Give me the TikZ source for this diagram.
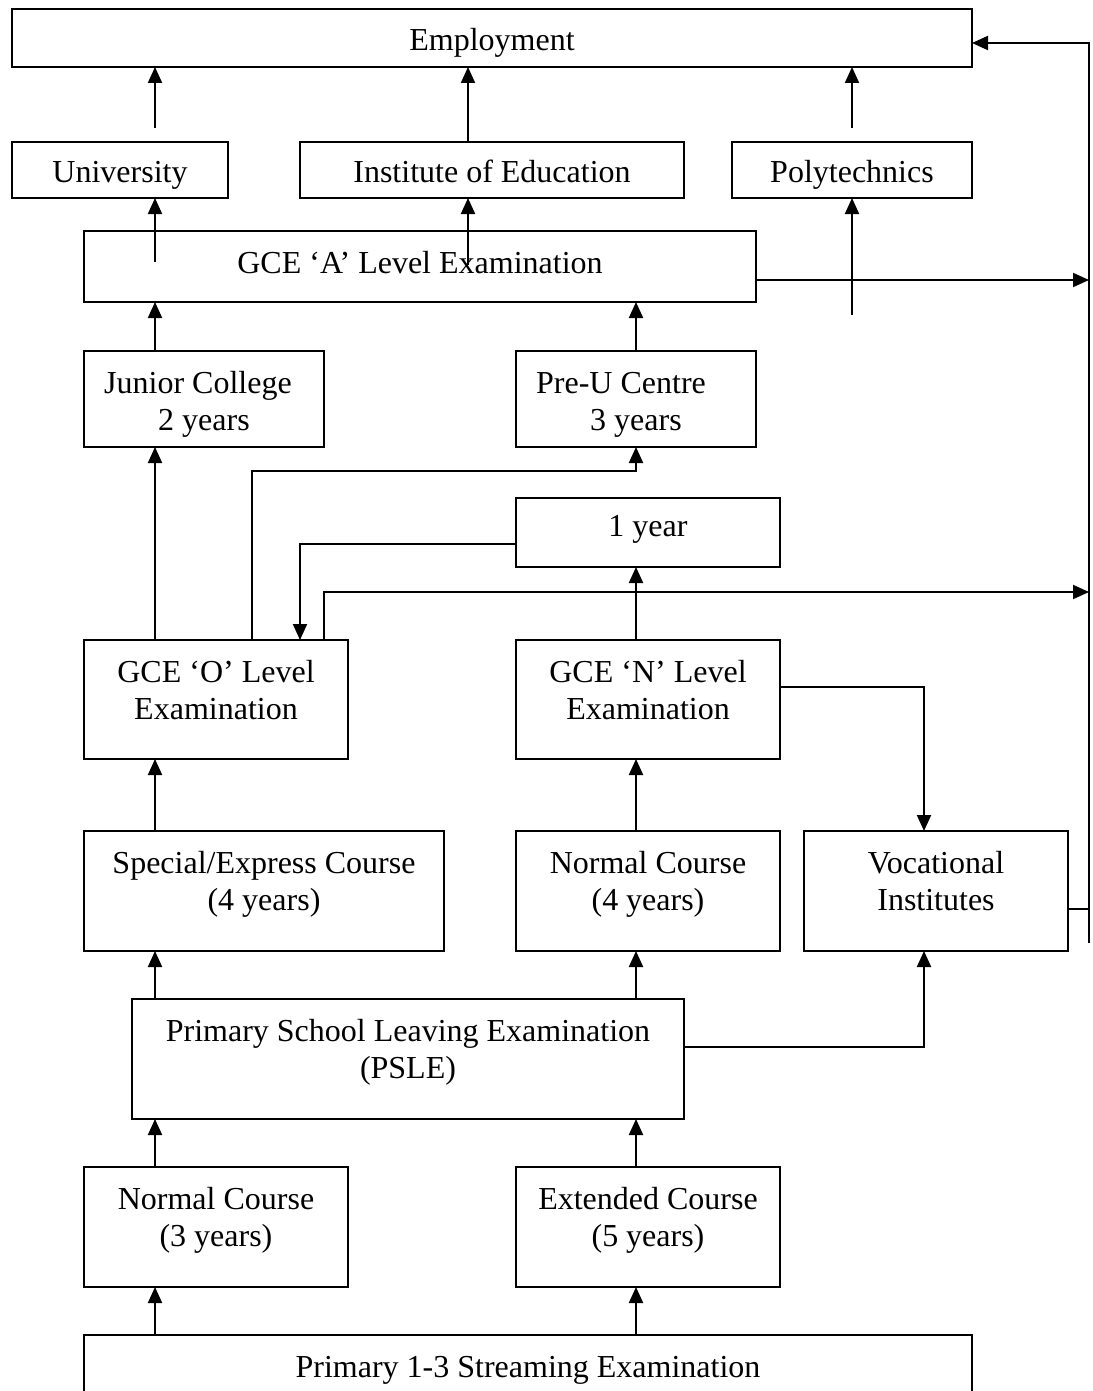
\documentclass[tikz,border=0pt]{standalone}
\usepackage{fontspec}
\setmainfont{Liberation Serif}
\usetikzlibrary{arrows.meta}
\begin{document}
\begin{tikzpicture}[x=1pt,y=-1pt,line width=2pt,
  box/.style={draw,anchor=north west,inner sep=0pt,outer sep=0pt},
  txt/.style={font=\fontsize{32}{37}\selectfont,align=center,inner sep=0pt},
  arr/.style={-{Triangle[length=16pt,width=14pt]}}]
\useasboundingbox (0,0) rectangle (1092,1391);
\clip (0,0) rectangle (1092,1391);
% boxes
\node[box,minimum width=960pt,minimum height=58pt] (emp) at (12,9) {};
\node[box,minimum width=216pt,minimum height=56pt] (uni) at (12,142) {};
\node[box,minimum width=384pt,minimum height=56pt] (ioe) at (300,142) {};
\node[box,minimum width=240pt,minimum height=56pt] (poly) at (732,142) {};
\node[box,minimum width=672pt,minimum height=71pt] (gcea) at (84,231) {};
\node[box,minimum width=240pt,minimum height=96pt] (jc) at (84,351) {};
\node[box,minimum width=240pt,minimum height=96pt] (preu) at (516,351) {};
\node[box,minimum width=264pt,minimum height=69pt] (one) at (516,498) {};
\node[box,minimum width=264pt,minimum height=119pt] (gceo) at (84,640) {};
\node[box,minimum width=264pt,minimum height=119pt] (gcen) at (516,640) {};
\node[box,minimum width=360pt,minimum height=120pt] (spec) at (84,831) {};
\node[box,minimum width=264pt,minimum height=120pt] (norm4) at (516,831) {};
\node[box,minimum width=264pt,minimum height=120pt] (voc) at (804,831) {};
\node[box,minimum width=552pt,minimum height=120pt] (psle) at (132,999) {};
\node[box,minimum width=264pt,minimum height=120pt] (norm3) at (84,1167) {};
\node[box,minimum width=264pt,minimum height=120pt] (ext) at (516,1167) {};
\node[box,minimum width=888pt,minimum height=80pt] (p13) at (84,1335) {};
% texts
\node[txt] (empt) at (492,43) {\strut Employment};
\node[txt] (unit) at (120,175) {\strut University};
\node[txt] (ioet) at (492,175) {\strut Institute of Education};
\node[txt] (polyt) at (852,175) {\strut Polytechnics};
\node[txt] (gceat) at (420,266) {\strut GCE ‘A’ Level Examination};
\node[txt] (jct) at (204,405) {\strut Junior College\hspace*{12pt}\\\strut 2 years};
\node[txt] (preut) at (636,405) {\strut Pre-U Centre\hspace*{30pt}\\\strut 3 years};
\node[txt] (onet) at (648,529) {\strut 1 year};
\node[txt] (gceot) at (216,694) {\strut GCE ‘O’ Level\\\strut Examination};
\node[txt] (gcent) at (648,694) {\strut GCE ‘N’ Level\\\strut Examination};
\node[txt] (spect) at (264,885) {\strut Special/Express Course\\\strut (4 years)};
\node[txt] (norm4t) at (648,885) {\strut Normal Course\\\strut (4 years)};
\node[txt] (voct) at (936,885) {\strut Vocational\\\strut Institutes};
\node[txt] (pslet) at (408,1053) {\strut Primary School Leaving Examination\\\strut (PSLE)};
\node[txt] (norm3t) at (216,1221) {\strut Normal Course\\\strut (3 years)};
\node[txt] (extt) at (648,1221) {\strut Extended Course\\\strut (5 years)};
\node[txt] (p13t) at (528,1370) {\strut Primary 1-3 Streaming Examination};
% helper coordinates
\coordinate (xa) at (155,0);
\coordinate (xb) at (468,0);
\coordinate (xd) at (636,0);
\coordinate (cu) at (155,128);
\coordinate (cp) at (852,128);
\coordinate (ca) at (155,262);
\coordinate (cb) at (468,265);
\coordinate (cc) at (852,315);
\coordinate (rtop) at (1089,43);
\coordinate (rbot) at (1089,943);
\coordinate (ya) at (0,280);
\coordinate (yv) at (0,909);
\coordinate (xe) at (252,471);
\coordinate (xf) at (300,544);
\coordinate (xg) at (324,592);
\coordinate (xh) at (924,687);
\coordinate (xi) at (924,1047);
% connectors to Employment
\draw[arr] (cu) -- (cu |- emp.south);
\draw[arr] (xb |- ioe.north) -- (xb |- emp.south);
\draw[arr] (cp) -- (cp |- emp.south);
\draw[arr] (rbot) -- (rtop) -- (emp.east |- rtop);
% from GCE A
\draw[arr] (ca) -- (ca |- uni.south);
\draw[arr] (cb) -- (cb |- ioe.south);
\draw[arr] (cc) -- (cc |- poly.south);
\draw[arr] (gcea.east |- ya) -- (rtop |- ya);
\draw (voc.east |- yv) -- (rtop |- yv);
% to GCE A
\draw[arr] (xa |- jc.north) -- (xa |- gcea.south);
\draw[arr] (xd |- preu.north) -- (xd |- gcea.south);
% GCE O
\draw[arr] (xa |- gceo.north) -- (xa |- jc.south);
\draw[arr] (xe |- gceo.north) -- (xe) -- (xd |- xe) -- (xd |- preu.south);
\draw[arr] (one.west |- xf) -- (xf) -- (xf |- gceo.north);
\draw[arr] (xg |- gceo.north) -- (xg) -- (rtop |- xg);
% GCE N
\draw[arr] (xd |- gcen.north) -- (xd |- one.south);
\draw[arr] (gcen.east |- xh) -- (xh) -- (xh |- voc.north);
% courses
\draw[arr] (xa |- spec.north) -- (xa |- gceo.south);
\draw[arr] (xd |- norm4.north) -- (xd |- gcen.south);
% PSLE
\draw[arr] (xa |- psle.north) -- (xa |- spec.south);
\draw[arr] (xd |- psle.north) -- (xd |- norm4.south);
\draw[arr] (psle.east |- xi) -- (xi) -- (xi |- voc.south);
% primary
\draw[arr] (xa |- norm3.north) -- (xa |- psle.south);
\draw[arr] (xd |- ext.north) -- (xd |- psle.south);
\draw[arr] (xa |- p13.north) -- (xa |- norm3.south);
\draw[arr] (xd |- p13.north) -- (xd |- ext.south);
\end{tikzpicture}
\end{document}
